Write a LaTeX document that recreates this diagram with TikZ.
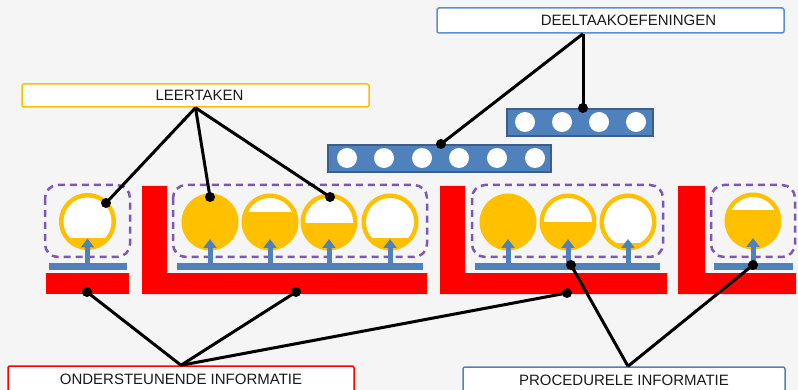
\documentclass[tikz,border=0pt]{standalone}
\usepackage{fontspec}
\setmainfont{Liberation Sans}
\usetikzlibrary{arrows.meta,calc}
\definecolor{bg}{HTML}{F5F5F5}
\definecolor{gold}{HTML}{FFC000}
\definecolor{barblue}{HTML}{4F81BD}
\definecolor{bardark}{HTML}{3A5F8F}
\definecolor{purp}{HTML}{7E57B0}
\definecolor{lblue}{HTML}{5B8FD0}
\definecolor{ink}{HTML}{1A1A1A}
\tikzset{
  lbl/.style={draw, fill=white, rounded corners=2pt, line width=1.5pt, inner sep=0pt,
    text=ink, font=\fontsize{15}{18}\selectfont},
  conn/.style={line width=3pt, black},
  dotm/.style={circle, fill=black, inner sep=0pt, minimum size=10pt},
  redshape/.style={fill=red},
  tray/.style={fill=barblue, inner sep=0pt, minimum height=7pt},
  grp/.style={draw=purp, dash pattern=on 7pt off 5pt, line width=2.5pt, rounded corners=13pt},
  up/.style={barblue, line width=5pt, -{Triangle[width=13pt,length=9pt]}},
  drill/.style={fill=barblue, draw=bardark, line width=2.5pt, inner sep=0pt},
  hole/.style={circle, fill=white, inner sep=0pt, minimum size=20pt},
  glassbase/.style={circle, fill=gold, minimum size=57pt, inner sep=0pt},
}
\newcommand\glass[4]{%
  \node[glassbase] (#1) at (#2,#3) {};
  \begin{scope}
    \clip (#2-30,#3-30) rectangle (#2+30,#4);
    \fill[white] (#2,#3) circle[radius=24];
  \end{scope}
}
\begin{document}
\begin{tikzpicture}[x=1pt,y=-1pt]
\fill[bg] (0,0) rectangle (798,390);
\useasboundingbox (0,0) rectangle (798,390);
\clip (0,0) rectangle (798,390);

% red support shapes
\fill[redshape] (46,273) rectangle (129,294);
\fill[redshape] (142,186) -- (167,186) -- (167,273) -- (427,273) -- (427,294) -- (142,294) -- cycle;
\fill[redshape] (440,186) -- (465,186) -- (465,273) -- (667,273) -- (667,294) -- (440,294) -- cycle;
\fill[redshape] (678,186) -- (705,186) -- (705,273) -- (796,273) -- (796,294) -- (678,294) -- cycle;

% dashed task groups
\draw[grp] (45,185) rectangle (130,257);
\draw[grp] (173,185) rectangle (427,257);
\draw[grp] (472,185) rectangle (663,257);
\draw[grp] (711,185) rectangle (795,257);

% trays (procedural info)
\node[tray, minimum width=78pt] (t1) at (88,266.5) {};
\node[tray, minimum width=246pt] (t2) at (300,266.5) {};
\node[tray, minimum width=185pt] (t3) at (567.5,266.5) {};
\node[tray, minimum width=79pt] (t4) at (753.5,266.5) {};

% learning tasks (glasses)
\glass{g1}{87.5}{221.5}{238}
\glass{g2a}{210}{222}{190}
\glass{g2b}{270}{222}{212}
\glass{g2c}{329}{222}{223}
\glass{g2d}{390}{222}{238}
\glass{g3a}{508}{222}{190}
\glass{g3b}{568}{222}{222}
\glass{g3c}{628}{222}{243}
\glass{g4}{753}{221}{210}

% arrows
\foreach \g/\t in {g1/t1,g2a/t2,g2b/t2,g2c/t2,g2d/t2,g3a/t3,g3b/t3,g3c/t3,g4/t4}{
  \draw[up] (\g |- \t.north) -- ($(\g.center)+(0,17)$);
}

% part-task practice bars
\node[drill, minimum width=146pt, minimum height=27pt] (bu) at (580,122.5) {};
\foreach \x in {525,562,599,636}{\node[hole] at (\x,122) {};}
\node[drill, minimum width=223pt, minimum height=27pt] (bl) at (439.5,158.5) {};
\foreach \x in {347,384,422,459,497,535}{\node[hole] at (\x,158) {};}

% label boxes
\node[lbl, draw=gold, minimum width=347pt, minimum height=23pt] (lt) at (195.5,95.5) {\hspace*{8pt}LEERTAKEN};
\node[lbl, draw=lblue, minimum width=347pt, minimum height=25pt] (dt) at (610.5,20.5) {\hspace*{36pt}DEELTAAKOEFENINGEN};
\node[lbl, draw=red, minimum width=346pt, minimum height=27pt] (oi) at (181,379.5) {ONDERSTEUNENDE INFORMATIE};
\node[lbl, draw=barblue, minimum width=322pt, minimum height=26pt] (pi) at (624,380) {PROCEDURELE INFORMATIE};
\coordinate (dtc) at ($(dt.south)+(-27.5,0)$);
\coordinate (pic) at ($(pi.north)+(4,0)$);

% dots
\node[dotm] (l1) at (106,203) {};
\node[dotm] (l2) at (210,197) {};
\node[dotm] (l3) at (330,197) {};
\node[dotm] (d1) at (583,108) {};
\node[dotm] (d2) at (441,144) {};
\node[dotm] (o1) at (87,292) {};
\node[dotm] (o2) at (296,292) {};
\node[dotm] (o3) at (567,293) {};
\node[dotm] (p1) at (571,265) {};
\node[dotm] (p2) at (753,265) {};

% connectors
\draw[conn] (lt.south) -- (l1.center);
\draw[conn] (lt.south) -- (l2.center);
\draw[conn] (lt.south) -- (l3.center);
\draw[conn] (dtc) -- (d1.center);
\draw[conn] (dtc) -- (d2.center);
\draw[conn] (oi.north) -- (o1.center);
\draw[conn] (oi.north) -- (o2.center);
\draw[conn] (oi.north) -- (o3.center);
\draw[conn] (pic) -- (p1.center);
\draw[conn] (pic) -- (p2.center);
\end{tikzpicture}
\end{document}
